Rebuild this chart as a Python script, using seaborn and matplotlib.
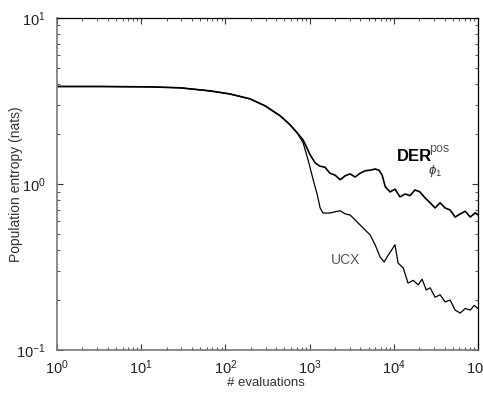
import matplotlib
matplotlib.use("Agg")
import matplotlib.pyplot as plt
import seaborn as sns
import numpy as np
import pandas as pd
from matplotlib.ticker import LogLocator, LogFormatterSciNotation, NullFormatter

# ---- data ----
common_x = [1, 3.2, 12.7, 29, 66, 113, 196, 296, 447, 585, 710]
common_y = [3.86, 3.86, 3.84, 3.79, 3.63, 3.48, 3.25, 2.95, 2.57, 2.27, 2.03]

der_x = [835, 1010, 1160, 1320, 1520, 1740, 2000, 2300, 2640, 3020, 3460, 3970,
         4550, 5220, 5980, 6660, 7240, 7900, 9000, 10300, 11800, 13600, 15500,
         17800, 20400, 23400, 26900, 30800, 35300, 40500, 46500, 53300, 61200,
         70200, 80500, 92300, 100000]
der_y = [1.84, 1.50, 1.34, 1.28, 1.26, 1.16, 1.13, 1.06, 1.12, 1.15, 1.10, 1.16,
         1.20, 1.21, 1.23, 1.21, 1.13, 0.96, 0.895, 0.93, 0.836, 0.87, 0.85,
         0.92, 0.895, 0.824, 0.77, 0.717, 0.77, 0.717, 0.697, 0.632, 0.66,
         0.685, 0.632, 0.67, 0.65]

ucx_x = [835, 955, 1100, 1230, 1330, 1440, 1740, 2000, 2300, 2640, 3020, 3460,
         3970, 4550, 5220, 5980, 6860, 7650, 8560, 10300, 11200, 12900, 14700,
         16900, 19400, 21600, 24200, 26900, 30800, 35300, 40500, 46500, 53300,
         61200, 70200, 80500, 89700, 100000]
ucx_y = [1.77, 1.40, 1.06, 0.86, 0.717, 0.668, 0.668, 0.68, 0.69, 0.66, 0.65,
         0.607, 0.566, 0.528, 0.493, 0.43, 0.363, 0.339, 0.373, 0.43, 0.334,
         0.312, 0.253, 0.263, 0.247, 0.267, 0.23, 0.237, 0.208, 0.215, 0.195,
         0.2, 0.174, 0.167, 0.178, 0.174, 0.186, 0.177]

sns.set_style("white")
plt.rcParams['font.family'] = ['Liberation Sans', 'DejaVu Sans']
plt.rcParams['mathtext.fontset'] = 'custom'
plt.rcParams['mathtext.rm'] = 'Liberation Sans'
plt.rcParams['mathtext.it'] = 'Liberation Sans:italic'
plt.rcParams['mathtext.bf'] = 'Liberation Sans:bold'

fig = plt.figure(figsize=(4.83, 3.96), dpi=100)
ax = fig.add_axes([0.118, 0.116, 0.872, 0.839])
ax.set_xscale('log')
ax.set_yscale('log')

df_der = pd.DataFrame({'x': common_x + der_x, 'y': common_y + der_y})
df_ucx = pd.DataFrame({'x': common_x + ucx_x, 'y': common_y + ucx_y})
sns.lineplot(data=df_ucx, x='x', y='y', ax=ax, color='black', lw=0.9,
             estimator=None, sort=False)
sns.lineplot(data=df_der, x='x', y='y', ax=ax, color='black', lw=1.2,
             estimator=None, sort=False)

ax.set_xlim(1, 1e5)
ax.set_ylim(0.1, 10)

ax.xaxis.set_major_locator(LogLocator(base=10, numticks=10))
ax.yaxis.set_major_locator(LogLocator(base=10, numticks=10))
ax.xaxis.set_minor_locator(LogLocator(base=10, subs=np.arange(2, 10), numticks=20))
ax.yaxis.set_minor_locator(LogLocator(base=10, subs=np.arange(2, 10), numticks=20))
ax.xaxis.set_major_formatter(LogFormatterSciNotation())
ax.yaxis.set_major_formatter(LogFormatterSciNotation())
ax.xaxis.set_minor_formatter(NullFormatter())
ax.yaxis.set_minor_formatter(NullFormatter())

ax.tick_params(which='both', direction='in', top=True, right=True,
               bottom=True, left=True,
               color='#333333', labelsize=10.5, labelcolor='#222222')
ax.tick_params(which='major', length=4, width=0.8)
ax.tick_params(axis='x', which='major', pad=6)
ax.tick_params(axis='y', which='major', pad=8)
ax.tick_params(which='minor', length=2.5, width=0.6)

for side in ['left', 'bottom']:
    ax.spines[side].set_color('#777777')
    ax.spines[side].set_linewidth(1.2)
for side in ['top', 'right']:
    ax.spines[side].set_color('black')
    ax.spines[side].set_linewidth(0.9)

ax.set_xlabel('# evaluations', fontsize=9.5, color='#333333')
ax.xaxis.set_label_coords(0.495, -0.082)
ax.set_ylabel('Population entropy (nats)', fontsize=10, color='#333333')
ax.yaxis.set_label_coords(-0.08, 0.5)

ax.text(2630, 0.348, 'UCX', fontsize=10, color='#555555', ha='center', va='center')
ax.text(10900, 1.46, 'DER', fontsize=12, fontweight='bold', color='black',
        ha='left', va='center')
ax.text(26500, 1.62, 'pos', fontsize=9, color='#555555', ha='left', va='center')
ax.text(25500, 1.19, r'$\phi_1$', fontsize=9.5, color='#333333', ha='left', va='center')

fig.savefig('out.png', dpi=100)
